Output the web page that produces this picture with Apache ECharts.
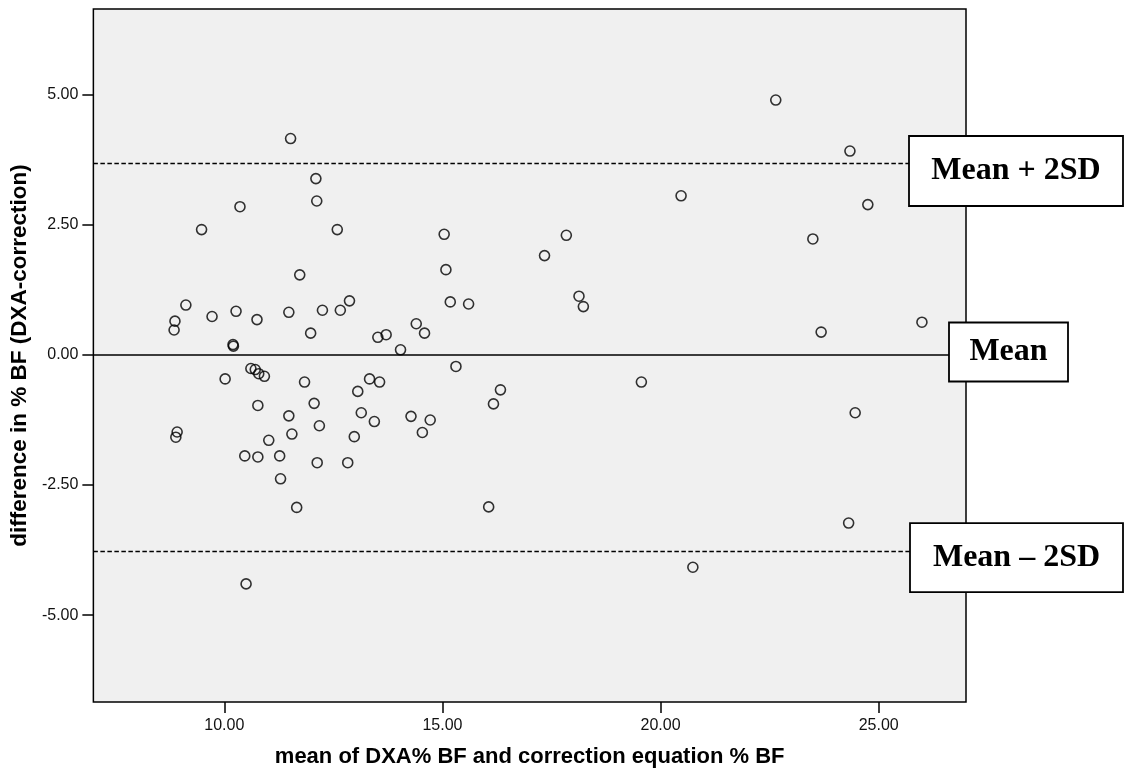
<!DOCTYPE html>
<html>
<head>
<meta charset="UTF-8">
<title>Bland-Altman plot</title>
<script src="https://cdn.jsdelivr.net/npm/echarts@6/dist/echarts.min.js"></script>
<style>
	html, body { margin: 0; padding: 0; background: #fff; }
	#chart { width: 1124px; height: 773px; }
</style>
</head>
<body>
<div id="chart"></div>
<script type="text/javascript">
// mean of DXA %BF and correction equation %BF
var meanBF = [11.52, 12.10, 12.12, 10.36, 9.48, 12.59, 11.73, 12.87, 9.12, 12.25,
	12.66, 10.27, 11.48, 9.72, 10.75, 8.87, 8.85, 11.98, 13.52, 13.71,
	10.20, 10.21, 14.04, 22.64, 20.47, 15.04, 17.84, 17.34, 15.08, 15.18,
	15.60, 18.13, 18.23, 14.40, 14.59, 15.31, 24.34, 24.75, 23.49, 23.68,
	25.99, 10.61, 10.71, 10.79, 10.92, 10.02, 11.84, 13.33, 13.56, 13.06,
	10.77, 12.06, 11.48, 13.14, 13.44, 12.18, 11.55, 12.98, 8.92, 8.89,
	11.02, 10.47, 10.77, 11.27, 12.13, 12.83, 11.29, 11.66, 10.50, 19.56,
	16.33, 16.17, 14.28, 14.72, 14.54, 16.06, 20.74, 24.46, 24.31];
// difference in %BF (DXA - correction)
var diffBF = [4.16, 3.39, 2.96, 2.85, 2.41, 2.41, 1.54, 1.04, 0.96, 0.86,
	0.86, 0.84, 0.82, 0.74, 0.68, 0.65, 0.48, 0.42, 0.34, 0.39,
	0.20, 0.17, 0.10, 4.90, 3.06, 2.32, 2.30, 1.91, 1.64, 1.02,
	0.98, 1.13, 0.93, 0.60, 0.42, -0.22, 3.92, 2.89, 2.23, 0.44,
	0.63, -0.26, -0.28, -0.36, -0.41, -0.46, -0.52, -0.46, -0.52, -0.70,
	-0.97, -0.93, -1.17, -1.11, -1.28, -1.36, -1.52, -1.57, -1.48, -1.58,
	-1.64, -1.94, -1.96, -1.94, -2.07, -2.07, -2.38, -2.93, -4.40, -0.52,
	-0.67, -0.94, -1.18, -1.25, -1.49, -2.92, -4.08, -1.11, -3.23];

var limitValues = [3.69, 0, -3.78];
var limitNames = ['Mean + 2SD', 'Mean', 'Mean \u2013 2SD'];

var xTicks = [10, 15, 20, 25];
var yTicks = [-5, -2.5, 0, 2.5, 5];

var sansFont = 'Arial, "Liberation Sans", sans-serif';
var serifFont = '"Times New Roman", "Liberation Serif", serif';

var chart = echarts.init(document.getElementById('chart'));

var points = [];
for (var i = 0; i < meanBF.length; i++) {
	points.push([meanBF[i], diffBF[i]]);
}

var option = {
	animation: false,
	grid: {
		left: 93,
		top: 9,
		width: 873,
		height: 694,
		show: true,
		backgroundColor: '#f0f0f0',
		borderColor: '#000',
		borderWidth: 1.5
	},
	xAxis: {
		type: 'value',
		min: 7,
		max: 27,
		name: 'mean of DXA% BF and correction equation % BF',
		nameLocation: 'middle',
		nameGap: 44,
		nameTextStyle: { fontFamily: sansFont, fontSize: 22, fontWeight: 'bold', color: '#000' },
		axisLine: { show: false, onZero: false },
		axisTick: { show: true, length: 11, customValues: xTicks, lineStyle: { color: '#000', width: 1.5 } },
		axisLabel: {
			customValues: xTicks,
			margin: 16,
			fontFamily: sansFont,
			fontSize: 16,
			color: '#111',
			formatter: function (v) { return v.toFixed(2); }
		},
		splitLine: { show: false }
	},
	yAxis: {
		type: 'value',
		min: -6.67,
		max: 6.65,
		name: 'difference in % BF (DXA-correction)',
		nameLocation: 'middle',
		nameRotate: 90,
		nameGap: 56,
		nameTextStyle: { fontFamily: sansFont, fontSize: 22.5, fontWeight: 'bold', color: '#000' },
		axisLine: { show: false, onZero: false },
		axisTick: { show: true, length: 11, customValues: yTicks, lineStyle: { color: '#000', width: 1.5 } },
		axisLabel: {
			customValues: yTicks,
			margin: 15,
			fontFamily: sansFont,
			fontSize: 16,
			color: '#111',
			formatter: function (v) { return v.toFixed(2); }
		},
		splitLine: { show: false }
	},
	series: [{
		type: 'scatter',
		data: points,
		symbol: 'circle',
		symbolSize: 10,
		itemStyle: { color: 'rgba(0,0,0,0)', borderColor: '#000', borderWidth: 1.6 },
		markLine: {
			silent: true,
			symbol: 'none',
			label: { show: false },
			data: [
				{ yAxis: limitValues[0], lineStyle: { type: [4.5, 2.5], color: '#000', width: 1.3 } },
				{ yAxis: limitValues[1], lineStyle: { type: 'solid', color: '#000', width: 1.6 } },
				{ yAxis: limitValues[2], lineStyle: { type: [4.5, 2.5], color: '#000', width: 1.3 } }
			]
		},
		z: 3
	}]
};
chart.setOption(option);

// label boxes beside the reference lines
var boxes = [
	{ left: 909, width: 214, height: 70, dy: 8 },
	{ left: 949, width: 119, height: 59, dy: -3 },
	{ left: 910, width: 213, height: 69, dy: 6 }
];
var graphics = [];
for (var k = 0; k < limitValues.length; k++) {
	var lineY = chart.convertToPixel({ gridIndex: 0 }, [7, limitValues[k]])[1];
	var b = boxes[k];
	var cy = lineY + b.dy;
	graphics.push({
		type: 'rect',
		z: 100,
		shape: { x: b.left, y: cy - b.height / 2, width: b.width, height: b.height },
		style: { fill: '#fff', stroke: '#000', lineWidth: 1.8 }
	});
	graphics.push({
		type: 'text',
		z: 101,
		x: b.left + b.width / 2,
		y: cy,
		style: {
			text: limitNames[k],
			font: 'bold 32px ' + serifFont,
			fill: '#000',
			align: 'center',
			verticalAlign: 'middle'
		}
	});
}
chart.setOption({ graphic: graphics });
</script>
</body>
</html>
